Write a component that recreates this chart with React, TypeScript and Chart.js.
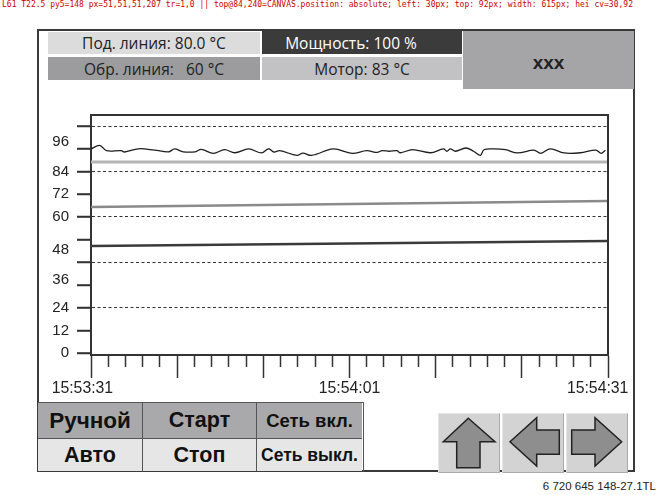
import React, { useEffect, useRef, useState } from "react";
import { Chart, registerables } from "chart.js";

Chart.register(...registerables);

// ---- data ----
const xTickSeconds = [0, 2, 4, 6, 8, 10, 12, 14, 16, 18, 20, 22, 24, 26, 28, 30, 32, 34, 36, 38, 40, 42, 44, 46, 48, 50, 52, 54, 56, 58, 60];
const majorTickSeconds = [0, 10, 20, 30, 40, 50, 60];
const timeLabelPositions = [-1, 30, 58.8];
const timeLabels = ["15:53:31", "15:54:01", "15:54:31"];

const yTickLabels = ["0", "12", "24", "36", "48", "60", "72", "84", "96"];
const yTickLabelPositions = [0, 12, 24, 38.7, 54.7, 72, 84, 96, 111.8];
const yMarkTicks = [0, 12, 24, 36, 48, 60, 72, 84, 96, 108, 120];
const yDottedTicks = [24, 48, 72, 96, 120];

const wavyTimes = [0, 1.0, 1.8, 3.5, 3.9, 5.5, 7.4, 9.0, 9.7, 10.7, 12.1, 12.8, 14.2, 15.5, 16.7, 18.3, 19.8, 20.6, 21.2, 21.9, 23.9, 24.6, 25.6, 28.1, 30.3, 32.0, 33.2, 33.8, 34.6, 35.5, 35.9, 37.3, 39.4, 40.9, 41.3, 41.7, 42.3, 43.5, 44.4, 45.2, 45.6, 46.8, 48.1, 49.5, 51.4, 52.2, 53.3, 54.9, 56.8, 58.6, 59.2, 59.7];
const wavyValues = [107.9, 109.8, 107.0, 107.0, 106.3, 108.0, 107.3, 106.4, 107.9, 106.4, 106.4, 107.7, 105.6, 107.5, 105.9, 107.9, 105.8, 108.0, 106.3, 107.0, 104.5, 105.7, 104.5, 107.9, 105.6, 107.0, 106.1, 107.0, 106.7, 107.0, 105.9, 107.5, 105.9, 107.9, 106.7, 107.9, 106.7, 108.4, 106.7, 104.5, 107.5, 107.9, 107.5, 105.8, 107.3, 105.6, 108.0, 105.8, 105.9, 107.3, 105.6, 107.2];
const lightTimes = [0, 60];
const lightValues = [101, 101];
const grayTimes = [0, 60];
const grayValues = [77.2, 80.4];
const darkTimes = [0, 60];
const darkValues = [56.7, 59.3];

const toPoints = (xs: number[], ys: number[]) => xs.map((x, i) => ({ x, y: ys[i] }));
const Y_TICK_LEN = 14;
const dbg: string[] = [];

const plotFrame = {
  id: "plotFrame",
  afterDraw(chart: any) {
    try {
      const { ctx, chartArea } = chart;
      const { left, top, right, bottom } = chartArea;
      const ys = chart.scales.y;
      ctx.save();
      ctx.setLineDash([]);
      ctx.strokeStyle = "#333";
      ctx.lineWidth = 2;
      ctx.beginPath();
      ctx.moveTo(left - 1, Math.round(top));
      ctx.lineTo(Math.round(right), Math.round(top));
      ctx.lineTo(Math.round(right), bottom);
      ctx.stroke();
      ctx.lineWidth = 1.6;
      ctx.beginPath();
      const pys: number[] = [];
      for (const v of yMarkTicks) {
        const py = Math.round(ys.getPixelForValue(v));
        pys.push(py);
        ctx.moveTo(left - Y_TICK_LEN, py);
        ctx.lineTo(left, py);
      }
      ctx.stroke();
      ctx.restore();
      const px = ctx.getImageData(Math.round(left - 7), pys[5], 1, 1).data;
      dbg.push("L" + left + " T" + top + " py5=" + pys[5] + " px=" + Array.from(px).join(",") + " tr=" + ctx.getTransform().a + "," + ctx.getTransform().e);
    } catch (e: any) {
      dbg.push("ERR " + String(e));
    }
  },
};

function TrendChart({ onDbg }: { onDbg: (s: string) => void }) {
  const ref = useRef<HTMLCanvasElement | null>(null);
  useEffect(() => {
    if (!ref.current) return;
    const chart = new Chart(ref.current, {
      type: "line",
      data: {
        datasets: [
          { data: toPoints(darkTimes, darkValues), borderColor: "#3a3a3a", borderWidth: 2.5, pointRadius: 0 },
          { data: toPoints(grayTimes, grayValues), borderColor: "#8a8a8a", borderWidth: 2.5, pointRadius: 0 },
          { data: toPoints(lightTimes, lightValues), borderColor: "#b4b4b4", borderWidth: 3, pointRadius: 0 },
          { data: toPoints(wavyTimes, wavyValues), borderColor: "#1e1e1e", borderWidth: 1.3, pointRadius: 0, tension: 0.35 },
        ],
      },
      options: {
        animation: false,
        responsive: false,
        maintainAspectRatio: false,
        events: [],
        layout: { padding: { top: 22.5, right: 37, left: 0, bottom: 0 } },
        plugins: { legend: { display: false }, tooltip: { enabled: false } },
        scales: {
          x: {
            type: "linear",
            position: "bottom",
            min: 0,
            max: 60,
            afterBuildTicks: (s: any) => {
              const vals = Array.from(new Set([...xTickSeconds, ...timeLabelPositions])).sort((a, b) => a - b);
              s.ticks = vals.map((v) => ({ value: v }));
            },
            afterFit: (s: any) => { s.height = 45; s.paddingLeft = 0; s.paddingRight = 0; },
            ticks: {
              autoSkip: false,
              maxRotation: 0,
              padding: 1,
              color: "#222",
              font: { family: "Liberation Sans", size: 15.8 },
              callback: (v: any) => {
                const i = timeLabelPositions.indexOf(Number(v));
                return i >= 0 ? timeLabels[i] : "";
              },
            },
            grid: {
              drawOnChartArea: false,
              tickLength: 23,
              tickColor: "#333",
              tickWidth: (c: any) => (xTickSeconds.includes(c.tick?.value) ? 1.5 : 0),
              tickBorderDash: (c: any) => (majorTickSeconds.includes(c.tick?.value) ? [] : [11, 1000]),
            },
            border: { display: true, color: "#333", width: 2 },
          },
          y: {
            type: "linear",
            position: "left",
            min: -0.9,
            max: 126.1,
            afterBuildTicks: (s: any) => {
              const vals = Array.from(new Set([...yMarkTicks, ...yTickLabelPositions])).sort((a, b) => a - b);
              s.ticks = vals.map((v) => ({ value: v }));
            },
            afterFit: (s: any) => { s.width = 61; s.paddingTop = 0; s.paddingBottom = 0; },
            ticks: {
              autoSkip: false,
              padding: 8,
              color: "#222",
              font: { family: "Liberation Sans", size: 15 },
              callback: (v: any) => {
                const i = yTickLabelPositions.indexOf(Number(v));
                return i >= 0 ? yTickLabels[i] : "";
              },
            },
            grid: {
              drawOnChartArea: true,
              drawTicks: true,
              tickLength: Y_TICK_LEN,
              tickColor: "#333",
              tickWidth: (c: any) => (yMarkTicks.includes(c.tick?.value) ? 1.5 : 0),
              lineWidth: 1,
              color: (c: any) => (yDottedTicks.includes(c.tick?.value) ? "#333" : "rgba(0,0,0,0)"),
            },
            border: { display: true, color: "#333", width: 2, dash: [3, 2.5] },
          },
        },
      } as any,
      plugins: [plotFrame],
    });
    const el = document.elementFromPoint(84, 240) as HTMLElement | null;
    const r = ref.current.getBoundingClientRect();
    onDbg(dbg.join(" | ") + " || top@84,240=" + (el ? el.tagName + "." + (el.getAttribute("style") || "").slice(0, 60) : "null") + " cv=" + r.left + "," + r.top);
    return () => chart.destroy();
  }, []);
  return (
    <canvas
      ref={ref}
      width={615}
      height={308}
      style={{ position: "absolute", left: 30, top: 92, width: 615, height: 308 }}
    />
  );
}

const box = (left: number, top: number, width: number, height: number, bg: string): React.CSSProperties => ({
  position: "absolute",
  left,
  top,
  width,
  height,
  background: bg,
  display: "flex",
  alignItems: "center",
  justifyContent: "center",
  whiteSpace: "pre",
  boxSizing: "border-box",
});

const headerFont: React.CSSProperties = { fontFamily: "'Open Sans', sans-serif", fontSize: 15.5, color: "#222" };
const btnFont: React.CSSProperties = { fontFamily: "'Liberation Sans', Arial, sans-serif", color: "#111", fontWeight: 700 };

function ArrowButton({ left, points }: { left: number; points: string }) {
  return (
    <div
      style={{
        position: "absolute",
        left,
        top: 413,
        width: 62,
        height: 60,
        background: "#d3d3d3",
        borderTop: "1px solid #e6e6e6",
        borderLeft: "1px solid #e6e6e6",
        borderRight: "1px solid #a9a9a9",
        borderBottom: "1px solid #a9a9a9",
        boxSizing: "border-box",
      }}
    >
      <svg width={62} height={60} style={{ position: "absolute", left: -1, top: -1 }}>
        <polygon points={points} fill="#8e8e8e" stroke="#222" strokeWidth={1.5} strokeLinejoin="miter" />
      </svg>
    </div>
  );
}

export default function App() {
  const [info, setInfo] = useState("");
  const cellBorder = "1.5px solid #555";
  return (
    <div style={{ position: "absolute", left: 0, top: 0, width: 661, height: 495, background: "#fff", overflow: "hidden" }}>
      <div style={{ position: "absolute", left: 2, top: 0, width: 655, fontSize: 8, lineHeight: "9px", fontFamily: "monospace", wordBreak: "break-all", color: "#c00" }}>{info}</div>
      <div style={{ position: "absolute", left: 37, top: 29, width: 598, height: 443, border: "2px solid #3a3a3a", boxSizing: "border-box", pointerEvents: "none" }} />

      <div style={{ ...box(48, 32, 212, 22, "#dcdcdc"), ...headerFont }}>Под. линия: 80.0 °C</div>
      <div style={{ ...box(48, 57, 212, 23, "#9c9c9e"), ...headerFont }}>{"Обр. линия:   60 °C"}</div>
      <div style={{ ...box(262, 31, 200, 23, "#3b3b3b"), ...headerFont, color: "#fff", paddingRight: 22 }}>Мощность: 100 %</div>
      <div style={{ ...box(262, 57, 200, 23, "#c2c2c4"), ...headerFont }}>Мотор: 83 °C</div>
      <div style={{ ...box(463, 31, 171, 58, "#a5a5a7"), fontFamily: "'Liberation Sans', Arial, sans-serif", fontWeight: 700, fontSize: 19, color: "#222", paddingTop: 6 }}>xxx</div>

      <TrendChart onDbg={setInfo} />

      <div style={{ position: "absolute", left: 38, top: 402, width: 326, height: 70, boxSizing: "border-box", borderTop: cellBorder, borderRight: cellBorder }}>
        <div style={{ ...box(0, 0, 105, 35, "#a9a9ab"), borderRight: cellBorder, ...btnFont, fontSize: 22.5 }}>Ручной</div>
        <div style={{ ...box(105, 0, 114, 35, "#a9a9ab"), borderRight: cellBorder, ...btnFont, fontSize: 21.5 }}>Старт</div>
        <div style={{ ...box(219, 0, 105, 35, "#a9a9ab"), ...btnFont, fontSize: 18.5 }}>Сеть вкл.</div>
        <div style={{ ...box(0, 35, 105, 33, "#e6e6e6"), borderRight: cellBorder, borderTop: cellBorder, ...btnFont, fontSize: 21.5 }}>Авто</div>
        <div style={{ ...box(105, 35, 114, 33, "#e6e6e6"), borderRight: cellBorder, borderTop: cellBorder, ...btnFont, fontSize: 21.5 }}>Стоп</div>
        <div style={{ ...box(219, 35, 105, 33, "#e6e6e6"), borderTop: cellBorder, ...btnFont, fontSize: 17.5 }}>Сеть выкл.</div>
      </div>

      <ArrowButton left={438} points="30.3,5.3 57,28.7 42,28.7 42,54.7 18.7,54.7 18.7,28.7 5.3,28.7" />
      <ArrowButton left={502} points="8,28.7 34.7,4.7 34.7,17 57.3,17 57.3,41.3 34.7,41.3 34.7,53" />
      <ArrowButton left={566} points="55.7,28.7 29,4.7 29,17 5.7,17 5.7,41.3 29,41.3 29,53" />

      <div style={{ position: "absolute", right: 5, top: 480, fontFamily: "'Liberation Sans', Arial, sans-serif", fontSize: 11.5, color: "#222", whiteSpace: "nowrap" }}>
        6 720 645 148-27.1TL
      </div>
    </div>
  );
}
